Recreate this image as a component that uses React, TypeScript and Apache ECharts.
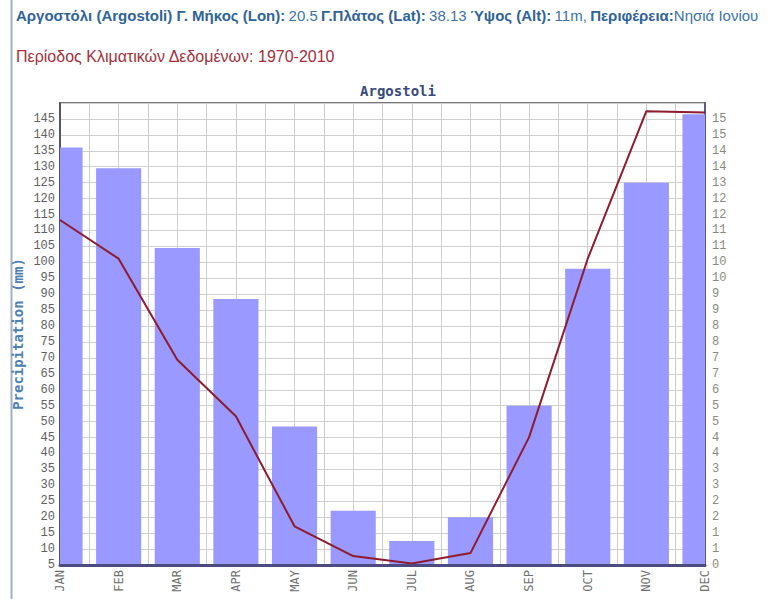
import React, { useEffect, useRef } from "react";
import * as echarts from "echarts";

const months = ["JAN", "FEB", "MAR", "APR", "MAY", "JUN", "JUL", "AUG", "SEP", "OCT", "NOV", "DEC"];
const precipitation = [136, 129.5, 104.5, 88.5, 48.5, 22, 12.5, 20, 55, 98, 125, 146.5];
const temperature = [11.6, 10.3, 6.9, 5.0, 1.3, 0.3, 0.05, 0.4, 4.3, 10.3, 15.26, 15.22];
const rightLabels = ["0", "1", "1", "2", "2", "3", "3", "4", "4", "5", "5", "6", "7", "7", "8", "8", "9", "9", "10", "10", "11", "11", "12", "12", "13", "14", "14", "15", "15"];
const leftMin = 5;
const leftMax = 150;
const leftStep = 5;
const rightTop = 15;

export default function App() {
  const ref = useRef<HTMLDivElement>(null);
  useEffect(() => {
    if (!ref.current) return;
    const chart = echarts.init(ref.current, null, { renderer: "svg" });
    const rStep = rightTop / (rightLabels.length - 1);
    const rMax = rStep * ((leftMax - leftMin) / leftStep);
    const option: any = {
      animation: false,
      backgroundColor: "#ffffff",
      grid: {
        left: 60,
        right: 68,
        top: 103,
        bottom: 34,
        show: true,
        borderColor: "#777777",
        borderWidth: 2,
        backgroundColor: "#ffffff",
        outerBoundsMode: "none",
      },
      graphic: [
        {
          type: "line",
          shape: { x1: 11.5, y1: 0, x2: 11.5, y2: 599 },
          style: { stroke: "#9fb0c8", lineWidth: 2 },
        },
        {
          type: "text",
          x: 16,
          y: 15,
          style: {
            text:
              "{b|Αργοστόλι (Argostoli) Γ. Μήκος (Lon):} {n|20.5} {b|Γ.Πλάτος (Lat):} {n|38.13} {b|Ύψος (Alt):} {n|11m,} {b|Περιφέρεια:}{n|Νησιά Ιονίου}",
            verticalAlign: "middle",
            rich: {
              b: { fontFamily: "Liberation Sans, Arial, sans-serif", fontSize: 15, fontWeight: "bold", fill: "#2f6496" },
              n: { fontFamily: "Liberation Sans, Arial, sans-serif", fontSize: 15, fontWeight: "normal", fill: "#3d72a6" },
            },
          },
        },
        {
          type: "text",
          x: 16,
          y: 56,
          style: {
            text: "Περίοδος Κλιματικών Δεδομένων: 1970-2010",
            verticalAlign: "middle",
            fontFamily: "Liberation Sans, Arial, sans-serif",
            fontSize: 16,
            fill: "#a3303c",
          },
        },
        {
          type: "text",
          x: 398,
          y: 91,
          style: {
            text: "Argostoli",
            align: "center",
            verticalAlign: "middle",
            fontFamily: "DejaVu Sans Mono, monospace",
            fontSize: 14,
            fontWeight: "bold",
            fill: "#3a4a7c",
          },
        },
      ],
      xAxis: [
        {
          type: "category",
          data: months,
          boundaryGap: false,
          axisLine: { show: true, lineStyle: { color: "#4b4b80", width: 3 } },
          axisTick: { show: false },
          splitLine: { show: false },
          axisLabel: {
            interval: 0,
            rotate: 90,
            margin: 5,
            color: "#707070",
            fontFamily: "DejaVu Sans Mono, monospace",
            fontSize: 12,
          },
          z: 5,
        },
        {
          type: "value",
          min: 0,
          max: months.length - 1,
          interval: 0.5,
          position: "bottom",
          axisLine: { show: false },
          axisTick: { show: false },
          axisLabel: { show: false },
          splitLine: { show: true, lineStyle: { color: "#cccccc", width: 1 } },
        },
      ],
      yAxis: [
        {
          type: "value",
          min: leftMin,
          max: leftMax,
          interval: leftStep,
          name: "Precipitation (mm)",
          nameLocation: "middle",
          nameGap: 35,
          nameMoveOverlap: false,
          nameTextStyle: {
            fontFamily: "DejaVu Sans Mono, monospace",
            fontSize: 14,
            fontWeight: "bold",
            color: "#4f7fb0",
          },
          axisLine: { show: true, lineStyle: { color: "#555566", width: 2 } },
          axisTick: { show: false },
          splitLine: { show: true, lineStyle: { color: "#d0d0d0", width: 1 } },
          axisLabel: {
            margin: 5,
            color: "#606060",
            fontFamily: "Liberation Mono, monospace",
            fontSize: 12,
            formatter: (v: number) => (v >= leftMax ? "" : String(v)),
          },
        },
        {
          type: "value",
          min: 0,
          max: rMax,
          interval: rStep,
          position: "right",
          axisLine: { show: true, lineStyle: { color: "#5a5a8a", width: 2 } },
          axisTick: { show: false },
          splitLine: { show: false },
          axisLabel: {
            margin: 7,
            color: "#8a8a7a",
            fontFamily: "Liberation Mono, monospace",
            fontSize: 12,
            formatter: (v: number) => {
              const i = Math.round(v / rStep);
              return i < rightLabels.length ? rightLabels[i] : "";
            },
          },
        },
      ],
      series: [
        {
          type: "custom",
          xAxisIndex: 0,
          yAxisIndex: 0,
          data: precipitation.map((v, i) => [i, v]),
          encode: { x: 0, y: 1 },
          z: 2,
          renderItem: (params: any, api: any) => {
            const top = api.coord([api.value(0), api.value(1)]);
            const base = api.coord([api.value(0), 0]);
            const w = api.size([1, 0])[0] * 0.77;
            const cs = params.coordSys;
            const rect = echarts.graphic.clipRectByRect(
              { x: top[0] - w / 2, y: top[1], width: w, height: base[1] - top[1] },
              { x: cs.x, y: cs.y, width: cs.width, height: cs.height }
            );
            if (!rect) return null;
            return { type: "rect", shape: rect, style: { fill: "#9999ff" } };
          },
        },
        {
          type: "line",
          data: temperature,
          xAxisIndex: 0,
          yAxisIndex: 1,
          symbol: "none",
          lineStyle: { color: "#8e1b2e", width: 2 },
          z: 4,
        },
      ],
    };
    chart.setOption(option);
    return () => chart.dispose();
  }, []);
  return (
    <div style={{ position: "fixed", left: 0, top: 0, width: 773, height: 599, background: "#fff" }}>
      <div ref={ref} style={{ width: 773, height: 599 }} />
    </div>
  );
}
